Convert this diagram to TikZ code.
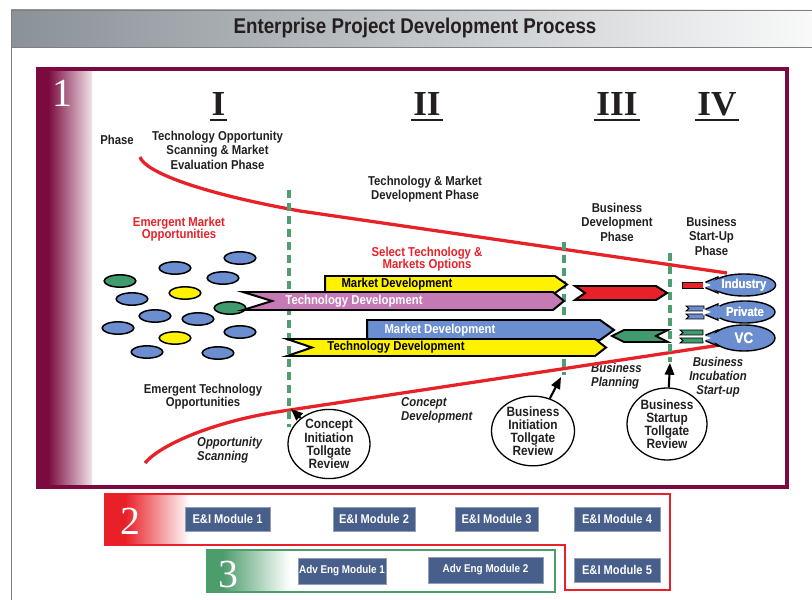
\documentclass[tikz,border=0pt]{standalone}
\usepackage{fontspec}
\setmainfont{Liberation Sans}
\newfontfamily\cond[FakeStretch=0.88]{Liberation Sans}
\newfontfamily\sernum{Liberation Serif}
\usetikzlibrary{shapes.geometric,arrows.meta}
\definecolor{maroon}{HTML}{7B0A3E}
\definecolor{redl}{HTML}{E82128}
\definecolor{gdash}{HTML}{4F9E70}
\definecolor{ovblue}{HTML}{6B8ED0}
\definecolor{ovgreen}{HTML}{3F9A6E}
\definecolor{yel}{HTML}{FFF200}
\definecolor{pinkb}{HTML}{C57AB6}
\definecolor{modblue}{HTML}{485E8B}
\definecolor{boxgreen}{HTML}{4C9C6C}
\definecolor{txt}{HTML}{231F20}
\definecolor{tbar}{HTML}{8A9197}
\definecolor{fgray}{HTML}{7F7F7F}
\begin{document}
\begin{tikzpicture}[x=0.03cm,y=-0.03cm,
  lbl/.style={font=\cond\bfseries\fontsize{11}{12.4}\selectfont, text=txt, align=center, inner sep=0pt},
  rlbl/.style={font=\cond\bfseries\fontsize{11}{10.6}\selectfont, text=redl, align=center, inner sep=0pt},
  ilbl/.style={font=\cond\bfseries\itshape\fontsize{11}{12}\selectfont, text=txt, inner sep=0pt},
  roman/.style={font=\sernum\bfseries\fontsize{30}{30}\selectfont, text=txt, inner xsep=1.5pt, inner ysep=0pt, anchor=base},
  bignum/.style={font=\sernum\fontsize{34}{34}\selectfont, text=white, anchor=base, inner sep=0pt},
  opp/.style={ellipse, draw=black, line width=1.3pt, minimum width=0.95cm, minimum height=0.37cm, inner sep=0pt},
  bar/.style={draw=black, line width=1.7pt, line join=miter},
  bartext/.style={font=\cond\bfseries\fontsize{11}{12}\selectfont, inner sep=0pt},
  tg/.style={ellipse, draw=black, line width=1.1pt, fill=white, inner sep=0pt, align=center, font=\cond\bfseries\fontsize{11.5}{11.2}\selectfont, text=txt},
  tgarrow/.style={line width=1.8pt, -{Triangle[length=10pt,width=8pt]}},
  gline/.style={gdash, line width=3.4pt, dash pattern=on 6.8pt off 4.3pt},
  redcurve/.style={redl, line width=2.8pt},
  balloon/.style={ellipse, draw=black, line width=1.2pt, fill=ovblue, inner sep=0pt, text=white, font=\cond\bfseries\fontsize{11}{12}\selectfont},
  module/.style={fill=modblue, draw=modblue!60, line width=0.6pt, text=white, font=\cond\bfseries\fontsize{10.8}{12}\selectfont, minimum height=0.72cm, inner sep=0pt},
  advmodule/.style={module, font=\cond\bfseries\fontsize{9.6}{11}\selectfont, minimum height=0.78cm}
]
\useasboundingbox (0,0) rectangle (812,600);
% title bar
\shade[left color=tbar, right color=white!95!tbar] (11,10) rectangle (812,47);
\draw[fgray, line width=0.8pt] (812,10) -- (11,10) -- (11,600);
\draw[fgray, line width=0.8pt] (11,47) -- (812,47);
\node[font=\cond\bfseries\fontsize{18.2}{20}\selectfont, text=txt] (title) at (415,28) {Enterprise Project Development Process};

% box 1
\fill[maroon] (40,70) rectangle (48,485);
\shade[left color=maroon, right color=maroon!12] (48,70) rectangle (92,485);
\draw[maroon, line width=3.5pt] (38,69) rectangle (787,487);
\node[bignum] (n1) at (62,107) {1};

% roman numerals
\node[roman] (r1) at (218.5,116) {I};
\node[roman] (r2) at (427,116) {II};
\node[roman] (r3) at (617,116) {III};
\node[roman] (r4) at (717,116) {IV};
\foreach \r in {r1,r2,r3,r4}
  \draw[txt, line width=1.8pt] ([yshift=-3.5pt]\r.base west) -- ([yshift=-3.5pt]\r.base east);

% phase labels
\node[lbl] (ph) at (117,140) {Phase};
\node[lbl] (p1) at (217.5,150) {Technology Opportunity\\Scanning \& Market\\Evaluation Phase};
\node[lbl] (p2) at (425,189) {Technology \& Market\\Development Phase};
\node[lbl] (p3) at (617,222) {Business\\Development\\Phase};
\node[lbl] (p4) at (711.5,236) {Business\\Start-Up\\Phase};
\node[rlbl] (emo) at (179,229) {Emergent Market\\Opportunities};
\node[lbl, font=\cond\bfseries\fontsize{11}{11}\selectfont] (eto) at (203,397) {Emergent Technology\\Opportunities};
\node[rlbl] (sel) at (427,259) {Select Technology \&\\Markets Options};
\node[ilbl, anchor=west, align=left] (os) at (197,450) {Opportunity\\Scanning};
\node[ilbl, anchor=west, align=left] (cd) at (401,410) {Concept\\Development};
\node[ilbl, anchor=west, align=left] (bp) at (591,376) {Business\\Planning};
\node[ilbl, align=center] (bi) at (718,377) {Business\\Incubation\\Start-up};

% red curves
\draw[redcurve] (140,157) .. controls (145,172) and (200,193) .. (300,211) -- (727,273);
\draw[redcurve] (145,463) .. controls (160,445) and (215,420) .. (290,410) -- (727,344);

% green dashed lines
\coordinate (d1t) at (289,190); \coordinate (d1b) at (289,427);
\coordinate (d2t) at (564,242); \coordinate (d2b) at (564,375);
\coordinate (d3t) at (670,253); \coordinate (d3b) at (670,362);
\draw[gline] (d1t) -- (d1b);
\draw[gline] (d2t) -- (d2b);
\draw[gline] (d3t) -- (d3b);

% opportunity ovals
\node[opp, fill=ovblue] (o1) at (240,258) {};
\node[opp, fill=ovblue] (o2) at (175,268) {};
\node[opp, fill=ovgreen] (o3) at (120,281) {};
\node[opp, fill=ovblue] (o4) at (223,278) {};
\node[opp, fill=yel] (o5) at (185,293) {};
\node[opp, fill=ovblue] (o6) at (132,299) {};
\node[opp, fill=ovgreen] (o7) at (230,308) {};
\node[opp, fill=ovblue] (o8) at (155,316) {};
\node[opp, fill=ovblue] (o9) at (198,319) {};
\node[opp, fill=ovblue] (o10) at (118,328) {};
\node[opp, fill=ovblue] (o11) at (240,332) {};
\node[opp, fill=yel] (o12) at (175,338) {};
\node[opp, fill=ovblue] (o13) at (147,352) {};
\node[opp, fill=ovblue] (o14) at (218,353) {};

% upper bars
\draw[bar, fill=yel] (325,276) -- (555,276) -- (567,284.5) -- (555,293) -- (325,293) -- cycle;
\node[bartext, text=black] (md1) at (397,284.5) {Market Development};
\draw[bar, fill=pinkb] (243,292) -- (553,292) -- (564,301) -- (553,310) -- (243,310) -- (272,301) -- cycle;
\node[bartext, text=white] (td1) at (354,301) {Technology Development};
\draw[bar, fill=redl] (575,286) -- (656,286) -- (667,293) -- (656,300) -- (575,300) -- (585,293) -- cycle;

% lower bars
\draw[bar, fill=ovblue] (367,320) -- (600,320) -- (614,330) -- (600,340) -- (367,340) -- cycle;
\node[bartext, text=white] (md2) at (440,330) {Market Development};
\draw[bar, fill=yel] (287,339) -- (595,339) -- (606,347.5) -- (595,356) -- (287,356) -- (312,347.5) -- cycle;
\node[bartext, text=black] (td2) at (396,347.5) {Technology Development};
\draw[bar, fill=ovgreen] (612,336) -- (624,330) -- (668,330) -- (656,336) -- (668,342) -- (624,342) -- cycle;

% balloons: tails
\draw[fill=redl, line width=0.8pt] (682,282) rectangle (703,288);
\foreach \yy in {306,314}
  \draw[fill=ovblue, line width=0.8pt] (686,\yy) -- (704,\yy) -- (704,\yy+5) -- (686,\yy+5) -- (689,\yy+2.5) -- cycle;
\foreach \yy in {330,338}
  \draw[fill=ovgreen, line width=0.8pt] (680,\yy) -- (703,\yy) -- (703,\yy+5) -- (680,\yy+5) -- (683,\yy+2.5) -- cycle;
% balloons: necks
\foreach \cy in {285,312,338}
  \draw[fill=ovblue, line width=1.2pt] (706,\cy-3) -- (718,\cy-8) -- (718,\cy+8) -- (706,\cy+3) -- cycle;
\node[balloon, minimum width=1.86cm, minimum height=0.66cm] (ind) at (744,285) {Industry};
\node[balloon, minimum width=1.80cm, minimum height=0.66cm] (priv) at (745,312) {Private};
\node[balloon, minimum width=1.86cm, minimum height=0.78cm, font=\cond\bfseries\fontsize{13}{14}\selectfont] (vc) at (744,338) {VC};
\foreach \cy in {285,312,338}{
  \fill[ovblue] (707.5,\cy-2) -- (720,\cy-6.5) -- (720,\cy+6.5) -- (707.5,\cy+2) -- cycle;
  \fill[white] (703,\cy-3) -- (711,\cy) -- (703,\cy+3) -- cycle;}
\node[balloon, draw=none, fill=none, minimum width=1.86cm, minimum height=0.66cm] at (744,285) {Industry};
\node[balloon, draw=none, fill=none, minimum width=1.80cm, minimum height=0.66cm] at (745,312) {Private};
\node[balloon, draw=none, fill=none, minimum width=1.86cm, minimum height=0.78cm, font=\cond\bfseries\fontsize{13}{14}\selectfont] at (744,338) {VC};

% tollgates
\node[tg, minimum width=2.46cm, minimum height=1.95cm] (tg1) at (329,444) {Concept\\Initiation\\Tollgate\\Review};
\node[tg, minimum width=2.49cm, minimum height=1.86cm] (tg2) at (533,431) {Business\\Initiation\\Tollgate\\Review};
\node[tg, minimum width=2.40cm, minimum height=2.16cm] (tg3) at (667,424) {Business\\Startup\\Tollgate\\Review};
\coordinate (a1) at (291,409);
\coordinate (a2) at (561,377);
\coordinate (a3) at (670,363);
\draw[tgarrow] (tg1) -- (a1);
\draw[tgarrow] (tg2) -- (a2);
\draw[tgarrow] (tg3) -- (a3);

% box 2
\fill[redl] (106,495) rectangle (125,544);
\shade[left color=redl, right color=white] (125,495) rectangle (190,544);
\draw[redl, line width=2pt] (105,494) -- (670,494) -- (670,590) -- (565,590) -- (565,545) -- (105,545) -- cycle;
\node[bignum] (n2) at (130,534) {2};
\node[module, minimum width=2.55cm] (m1) at (227.5,519) {E\&I Module 1};
\node[module, minimum width=2.46cm] (m2) at (374,519) {E\&I Module 2};
\node[module, minimum width=2.49cm] (m3) at (496.5,519) {E\&I Module 3};
\node[module, minimum width=2.58cm] (m4) at (617,519) {E\&I Module 4};
\node[module, minimum width=2.58cm] (m5) at (617,570) {E\&I Module 5};

% box 3
\fill[boxgreen] (208,551) rectangle (222,591);
\shade[left color=boxgreen, right color=white] (222,551) rectangle (290,591);
\draw[boxgreen, line width=2pt] (207,550) rectangle (555,592);
\node[bignum] (n3) at (228,587) {3};
\node[advmodule, minimum width=2.64cm] (a1m) at (342,571) {Adv Eng Module 1};
\node[advmodule, minimum width=3.45cm] (a2m) at (485.5,570) {Adv Eng Module 2};
\end{tikzpicture}
\end{document}
